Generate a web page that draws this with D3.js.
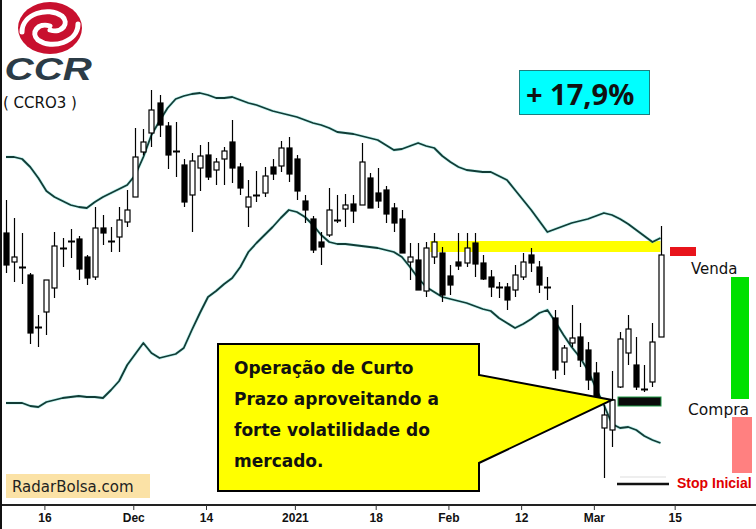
<!DOCTYPE html>
<html><head><meta charset="utf-8">
<script src="https://cdn.jsdelivr.net/npm/d3@7"></script>
<style>body{margin:0;background:#fff}svg{display:block}</style>
</head><body><script>
// ---- DATA ----
const dates = ["2020-11-09","2020-11-10","2020-11-11","2020-11-12","2020-11-13","2020-11-16","2020-11-17","2020-11-18","2020-11-19","2020-11-20",
"2020-11-23","2020-11-24","2020-11-25","2020-11-26","2020-11-27","2020-11-30","2020-12-01","2020-12-02","2020-12-03","2020-12-04",
"2020-12-07","2020-12-08","2020-12-09","2020-12-10","2020-12-11","2020-12-14","2020-12-15","2020-12-16","2020-12-17","2020-12-18",
"2020-12-21","2020-12-22","2020-12-23","2020-12-28","2020-12-29","2020-12-30","2021-01-04","2021-01-05","2021-01-06","2021-01-07",
"2021-01-08","2021-01-11","2021-01-12","2021-01-13","2021-01-14","2021-01-15","2021-01-18","2021-01-19","2021-01-20","2021-01-21",
"2021-01-22","2021-01-26","2021-01-27","2021-01-28","2021-01-29","2021-02-01","2021-02-02","2021-02-03","2021-02-04","2021-02-05",
"2021-02-08","2021-02-09","2021-02-10","2021-02-11","2021-02-12","2021-02-17","2021-02-18","2021-02-19","2021-02-22","2021-02-23",
"2021-02-24","2021-02-25","2021-02-26","2021-03-01","2021-03-02","2021-03-03","2021-03-04","2021-03-05","2021-03-08","2021-03-09",
"2021-03-10","2021-03-11"];
const open = [12.97,12.68,12.63,12.55,12.03,12.18,12.42,12.82,12.89,12.91,
12.73,12.53,13.02,12.89,12.93,13.08,13.33,13.78,13.97,14.27,
14.04,13.79,13.65,13.35,13.62,13.75,13.60,13.71,13.88,13.63,
13.23,13.35,13.37,13.63,13.64,13.82,13.71,13.29,13.11,12.88,
12.95,13.10,13.21,13.26,13.25,13.52,13.37,13.40,13.22,13.11,
12.68,12.70,12.39,12.73,12.77,12.54,12.68,12.67,12.87,12.67,
12.53,12.43,12.43,12.40,12.53,12.75,12.63,12.43,12.12,11.68,
11.87,11.93,11.80,11.57,11.02,11.00,11.43,11.77,11.65,11.41,
11.48,11.93];
const high = [13.30,13.12,12.97,12.57,12.15,12.50,12.98,12.92,13.01,12.94,
12.75,13.23,13.15,13.03,13.23,13.40,14.02,14.01,14.40,14.35,
14.08,14.08,13.71,13.77,13.85,13.88,13.72,13.83,14.10,13.67,
13.50,13.59,13.63,13.71,13.89,13.93,13.75,13.35,13.14,12.98,
13.42,13.35,13.36,13.35,13.87,13.57,13.62,13.44,13.27,13.20,
12.87,12.87,12.88,12.97,12.83,12.65,12.97,12.97,12.97,12.75,
12.60,12.48,12.47,12.65,12.77,12.82,12.69,12.53,12.20,11.85,
12.25,12.07,11.88,11.68,11.25,11.59,11.98,12.15,11.93,11.65,
12.07,13.04];
const low = [12.57,12.48,12.46,11.86,11.83,11.95,12.32,12.63,12.72,12.50,
12.45,12.50,12.85,12.78,12.78,13.03,13.33,13.75,13.83,13.93,
13.61,13.53,13.23,12.98,13.39,13.50,13.45,13.45,13.47,13.35,
13.03,13.28,13.33,13.50,13.58,13.48,13.30,13.07,12.77,12.65,
12.93,13.07,13.03,13.07,13.25,13.22,13.22,13.07,12.98,12.77,
12.50,12.40,12.33,12.66,12.28,12.35,12.60,12.63,12.53,12.50,
12.33,12.32,12.20,12.33,12.50,12.58,12.37,12.30,11.51,11.55,
11.83,11.63,11.40,11.32,10.52,10.83,11.42,11.65,11.40,11.38,
11.43,11.93];
const close = [12.65,12.73,12.62,11.97,12.02,12.50,12.84,12.81,12.88,12.61,
12.52,13.02,12.97,12.88,13.10,13.20,13.73,13.88,14.20,14.05,
13.75,13.78,13.28,13.69,13.74,13.53,13.68,13.79,13.62,13.42,
13.33,13.34,13.54,13.56,13.82,13.56,13.39,13.20,12.80,12.83,
13.20,13.09,13.25,13.19,13.68,13.22,13.29,13.16,13.07,12.77,
12.73,12.40,12.82,12.88,12.35,12.45,12.64,12.82,12.66,12.51,
12.43,12.42,12.30,12.55,12.68,12.67,12.45,12.42,11.60,11.82,
11.92,11.70,11.50,11.32,11.15,11.30,11.91,12.01,11.43,11.40,
11.88,12.75];
const upperBand = [13.73,13.73,13.71,13.63,13.52,13.39,13.33,13.29,13.25,13.23,
13.22,13.28,13.33,13.37,13.41,13.45,13.55,13.73,13.95,14.09,
14.22,14.31,14.34,14.36,14.37,14.35,14.32,14.32,14.33,14.30,
14.27,14.25,14.22,14.19,14.17,14.15,14.13,14.10,14.07,14.05,
14.02,13.98,13.97,13.96,13.94,13.92,13.90,13.85,13.80,13.81,
13.84,13.87,13.84,13.82,13.74,13.68,13.63,13.60,13.59,13.58,
13.58,13.54,13.50,13.40,13.30,13.20,13.09,12.98,13.01,13.04,
13.07,13.09,13.11,13.14,13.17,13.15,13.11,13.06,13.00,12.94,
12.88,12.92];
const lowerBand = [11.27,11.27,11.27,11.24,11.23,11.28,11.30,11.32,11.33,11.34,
11.33,11.33,11.32,11.40,11.49,11.65,11.76,11.87,11.77,11.72,
11.74,11.76,11.82,12.00,12.17,12.33,12.39,12.46,12.52,12.63,
12.78,12.87,12.95,13.03,13.12,13.20,13.18,13.13,13.05,12.95,
12.88,12.86,12.86,12.85,12.84,12.83,12.82,12.80,12.78,12.73,
12.63,12.52,12.43,12.38,12.33,12.31,12.29,12.27,12.24,12.21,
12.19,12.12,12.07,12.02,12.06,12.11,12.17,12.20,12.08,11.95,
11.83,11.73,11.60,11.42,11.25,11.06,11.02,11.03,11.00,10.94,
10.90,10.87];
const tickLabels = ["16","Dec","14","2021","18","Feb","12","Mar","15"];
const tickIdx = [5,16,25,36,46,55,64,73,83];
const calloutLines = ["Operação de Curto","Prazo aproveitando a","forte volatilidade do","mercado."];

// ---- CHART ----
const W = 756, H = 529;
const svg = d3.select("body").append("svg").attr("width", W).attr("height", H);
svg.append("rect").attr("width", W).attr("height", H).attr("fill", "#fff");

const x = d3.scaleLinear().domain([0, dates.length - 1]).range([6, 660.5]);
const y = d3.scaleLinear().domain([10, 15.3]).range([530, 0]);

const candles = dates.map((d, i) => ({ i, d, o: open[i], h: high[i], l: low[i], c: close[i] }));

// yellow resistance band (behind candles)
svg.append("rect").attr("x", x(52.5)).attr("y", y(12.89))
  .attr("width", x(81) - x(52.5)).attr("height", y(12.78) - y(12.89))
  .attr("fill", "#ffff00");

// Bollinger bands
const bandLine = d3.line().x((v, i) => x(i)).y(v => y(v));
[upperBand, lowerBand].forEach(arr => {
  svg.append("path").attr("d", bandLine(arr)).attr("fill", "none")
    .attr("stroke", "#7fe8e0").attr("stroke-width", 3.2).attr("opacity", 0.45);
  svg.append("path").attr("d", bandLine(arr)).attr("fill", "none")
    .attr("stroke", "#123c36").attr("stroke-width", 1.8).attr("stroke-linejoin", "round");
});

// candles
const cg = svg.append("g");
cg.selectAll("line.wick").data(candles).join("line")
  .attr("x1", d => Math.round(x(d.i)) + 0.5).attr("x2", d => Math.round(x(d.i)) + 0.5)
  .attr("y1", d => y(d.h)).attr("y2", d => y(d.l))
  .attr("stroke", "#000").attr("stroke-width", 1.2);
candles.forEach(d => {
  const cx = Math.round(x(d.i)) + 0.5;
  const yt = y(Math.max(d.o, d.c)), yb = y(Math.min(d.o, d.c));
  if (yb - yt < 2) {
    cg.append("line").attr("x1", cx - 3.5).attr("x2", cx + 3.5)
      .attr("y1", (yt + yb) / 2).attr("y2", (yt + yb) / 2)
      .attr("stroke", "#000").attr("stroke-width", 2);
  } else {
    cg.append("rect").attr("x", cx - 2.5).attr("y", yt).attr("width", 5).attr("height", yb - yt)
      .attr("fill", d.c >= d.o ? "#fff" : "#000").attr("stroke", "#000").attr("stroke-width", 1.2);
  }
});

// x axis
svg.append("line").attr("x1", 0).attr("x2", W).attr("y1", 505).attr("y2", 505)
  .attr("stroke", "#222").attr("stroke-width", 2);
svg.append("line").attr("x1", 1).attr("x2", 1).attr("y1", 0).attr("y2", 529)
  .attr("stroke", "#111").attr("stroke-width", 2);
const xt = x.copy().range([x.range()[0] - 2, x.range()[1] - 2]);
const axis = d3.axisBottom(xt).tickValues(tickIdx).tickFormat((d, k) => tickLabels[k]).tickSize(5).tickSizeOuter(0);
const ag = svg.append("g").attr("transform", "translate(0,505)").call(axis);
ag.select(".domain").remove();
ag.selectAll(".tick line").attr("stroke", "#333");
ag.selectAll(".tick text").attr("dy", 0).attr("y", 17)
  .attr("font-family", "'Liberation Sans Narrow','Liberation Sans',sans-serif")
  .attr("font-weight", "bold").attr("font-size", 12).attr("fill", "#111");

// sell marker & texts
svg.append("rect").attr("x", 670).attr("y", 247).attr("width", 26).attr("height", 9).attr("fill", "#e8141b");
svg.append("text").attr("x", 691).attr("y", 274).text("Venda")
  .attr("font-family", "'DejaVu Sans',sans-serif").attr("font-size", 15).attr("fill", "#111");
svg.append("rect").attr("x", 731).attr("y", 277).attr("width", 18).attr("height", 122).attr("fill", "#00e000");
svg.append("text").attr("x", 688).attr("y", 415).text("Compra")
  .attr("font-family", "'DejaVu Sans',sans-serif").attr("font-size", 15.5).attr("fill", "#111");
svg.append("rect").attr("x", 732).attr("y", 417).attr("width", 20).attr("height", 56).attr("fill", "#ff8080");
svg.append("text").attr("x", 677).attr("y", 488).text("Stop Inicial")
  .attr("font-family", "'Liberation Sans',sans-serif").attr("font-weight", "bold").attr("font-size", 14).attr("fill", "#e00000");
svg.append("line").attr("x1", 617).attr("x2", 669).attr("y1", 484).attr("y2", 484).attr("stroke", "#111").attr("stroke-width", 2.5);
svg.append("line").attr("x1", 620).attr("x2", 666).attr("y1", 477).attr("y2", 477).attr("stroke", "#ddd").attr("stroke-width", 1);

// callout
svg.append("path")
  .attr("d", "M218,344 L479,344 L479,375 L612,400 L479,463 L479,491 L218,491 Z")
  .attr("fill", "#ffff00").attr("stroke", "#000").attr("stroke-width", 2).attr("stroke-linejoin", "miter");
svg.append("g").selectAll("text").data(calloutLines).join("text")
  .attr("x", 234).attr("y", (d, k) => 374 + k * 31).text(d => d)
  .attr("font-family", "'DejaVu Sans',sans-serif").attr("font-weight", "bold").attr("font-size", 17).attr("fill", "#111");

// buy marker
svg.append("rect").attr("x", 618).attr("y", 397).attr("width", 43).attr("height", 9)
  .attr("fill", "#0a0a0a").attr("stroke", "#1f9a45").attr("stroke-width", 1);

// percentage box
svg.append("rect").attr("x", 519.5).attr("y", 70.5).attr("width", 130).attr("height", 44)
  .attr("fill", "#00ffff").attr("stroke", "#1b7f80").attr("stroke-width", 1);
svg.append("text").attr("x", 526).attr("y", 105).text("+ 17,9%")
  .attr("font-family", "'Open Sans',sans-serif").attr("font-weight", "bold").attr("font-size", 29).attr("fill", "#111");

// RadarBolsa box
svg.append("rect").attr("x", 6).attr("y", 474).attr("width", 144).attr("height", 24).attr("fill", "#fbe2a6");
svg.append("text").attr("x", 12).attr("y", 492).text("RadarBolsa.com")
  .attr("font-family", "'DejaVu Sans',sans-serif").attr("font-size", 15).attr("fill", "#222");

// logo
const lg = svg.append("g");
lg.append("ellipse").attr("cx", 50).attr("cy", 28).attr("rx", 32).attr("ry", 26).attr("fill", "#c8102e");
lg.append("path").attr("d", "M22,32 C22,14 48,6 62,16 C70,23 62,34 50,30")
  .attr("fill", "none").attr("stroke", "#fff").attr("stroke-width", 5).attr("stroke-linecap", "round");
lg.append("path").attr("d", "M78,24 C78,42 52,50 38,40 C30,33 38,22 50,26")
  .attr("fill", "none").attr("stroke", "#fff").attr("stroke-width", 5).attr("stroke-linecap", "round");
lg.append("text").attr("x", 2).attr("y", 80).text("CCR")
  .attr("font-family", "'Liberation Sans',sans-serif").attr("font-weight", "bold").attr("font-style", "italic")
  .attr("font-size", 31).attr("fill", "#2b3b46").attr("transform", "translate(2,0) scale(1.3,1)");
svg.append("text").attr("x", 3).attr("y", 108).text("( CCRO3 )")
  .attr("font-family", "'DejaVu Sans',sans-serif").attr("font-size", 15).attr("fill", "#111");
</script></body></html>
